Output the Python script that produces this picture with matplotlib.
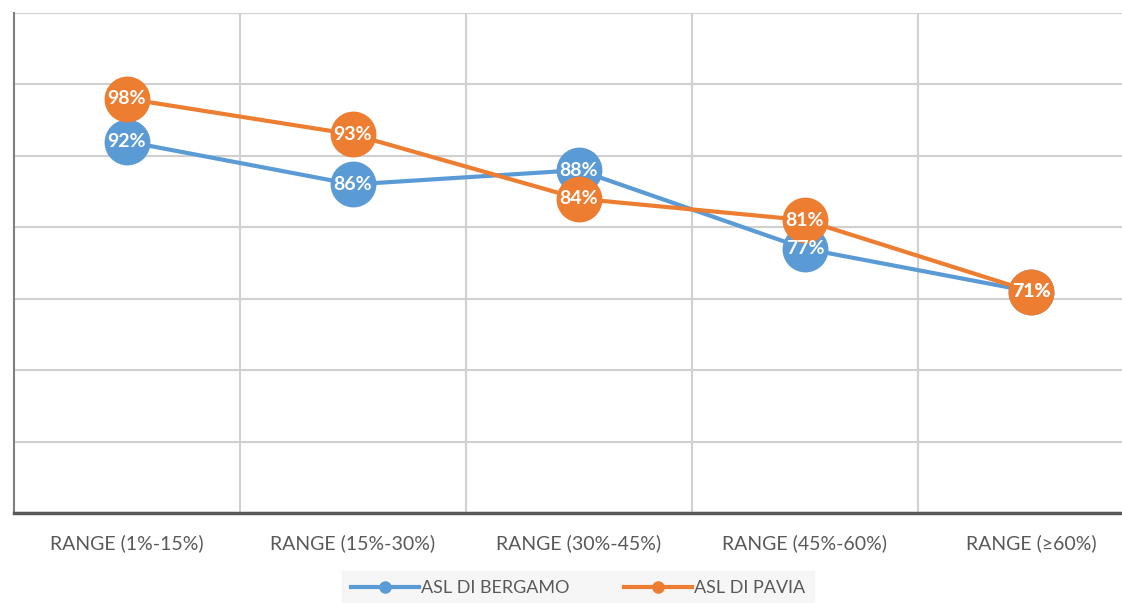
import matplotlib
matplotlib.use("Agg")
from matplotlib import pyplot as plt

categories = ["RANGE (1%-15%)", "RANGE (15%-30%)", "RANGE (30%-45%)",
              "RANGE (45%-60%)", "RANGE (≥60%)"]
bergamo = [0.92, 0.86, 0.88, 0.77, 0.71]
pavia = [0.98, 0.93, 0.84, 0.81, 0.71]

BLUE = "#5B9BD5"
ORANGE = "#ED7D31"
GREY = "#595959"

plt.rcParams["font.family"] = ["Lato", "DejaVu Sans"]

fig = plt.figure(figsize=(11.22, 6.03), dpi=100)
ax = fig.add_axes([14 / 1122, 1 - 513 / 603, 1 - 14 / 1122, 500 / 603])

x = list(range(len(categories)))
for vals, col, name in [(bergamo, BLUE, "ASL DI BERGAMO"), (pavia, ORANGE, "ASL DI PAVIA")]:
    ax.plot(x, vals, color=col, lw=3, marker="o", markersize=32, label=name, zorder=3)
    for xi, v in zip(x, vals):
        ax.text(xi, v, f"{round(v * 100)}%", color="white", fontsize=14,
                fontweight="bold", ha="center", va="center", zorder=4)

ax.set_ylim(0.4, 1.1)
ax.set_xlim(-0.5, 4.5 - 22 / 226)
ax.set_yticks([0.4 + 0.1 * i for i in range(8)])
ax.yaxis.grid(True, color="#d0d0d0", lw=1.5)
ax.set_xticks([i + 0.5 for i in range(4)], minor=True)
ax.xaxis.grid(True, which="minor", color="#d0d0d0", lw=1.5)
ax.set_axisbelow(True)
ax.tick_params(axis="y", left=False, labelleft=False)
ax.tick_params(axis="x", which="both", length=0, pad=15, labelsize=14, labelcolor=GREY)
ax.set_xticks(x)
ax.set_xticklabels(categories)

for s in ["top", "right"]:
    ax.spines[s].set_visible(False)
ax.spines["left"].set_color("#7f7f7f")
ax.spines["left"].set_linewidth(1.5)
ax.spines["bottom"].set_color("#595959")
ax.spines["bottom"].set_linewidth(2.5)

leg = fig.legend(loc="center", bbox_to_anchor=(578 / 1122, 1 - 588 / 603), ncol=2,
                 frameon=True, fontsize=13, markerscale=0.25, handlelength=3.8,
                 handletextpad=0.1, columnspacing=3, borderpad=0.5)
leg.get_frame().set_facecolor("#f4f4f4")
leg.get_frame().set_edgecolor("#f4f4f4")
leg.get_frame().set_boxstyle("square", pad=0)
for t in leg.get_texts():
    t.set_color(GREY)

fig.savefig("out.png", dpi=100)
